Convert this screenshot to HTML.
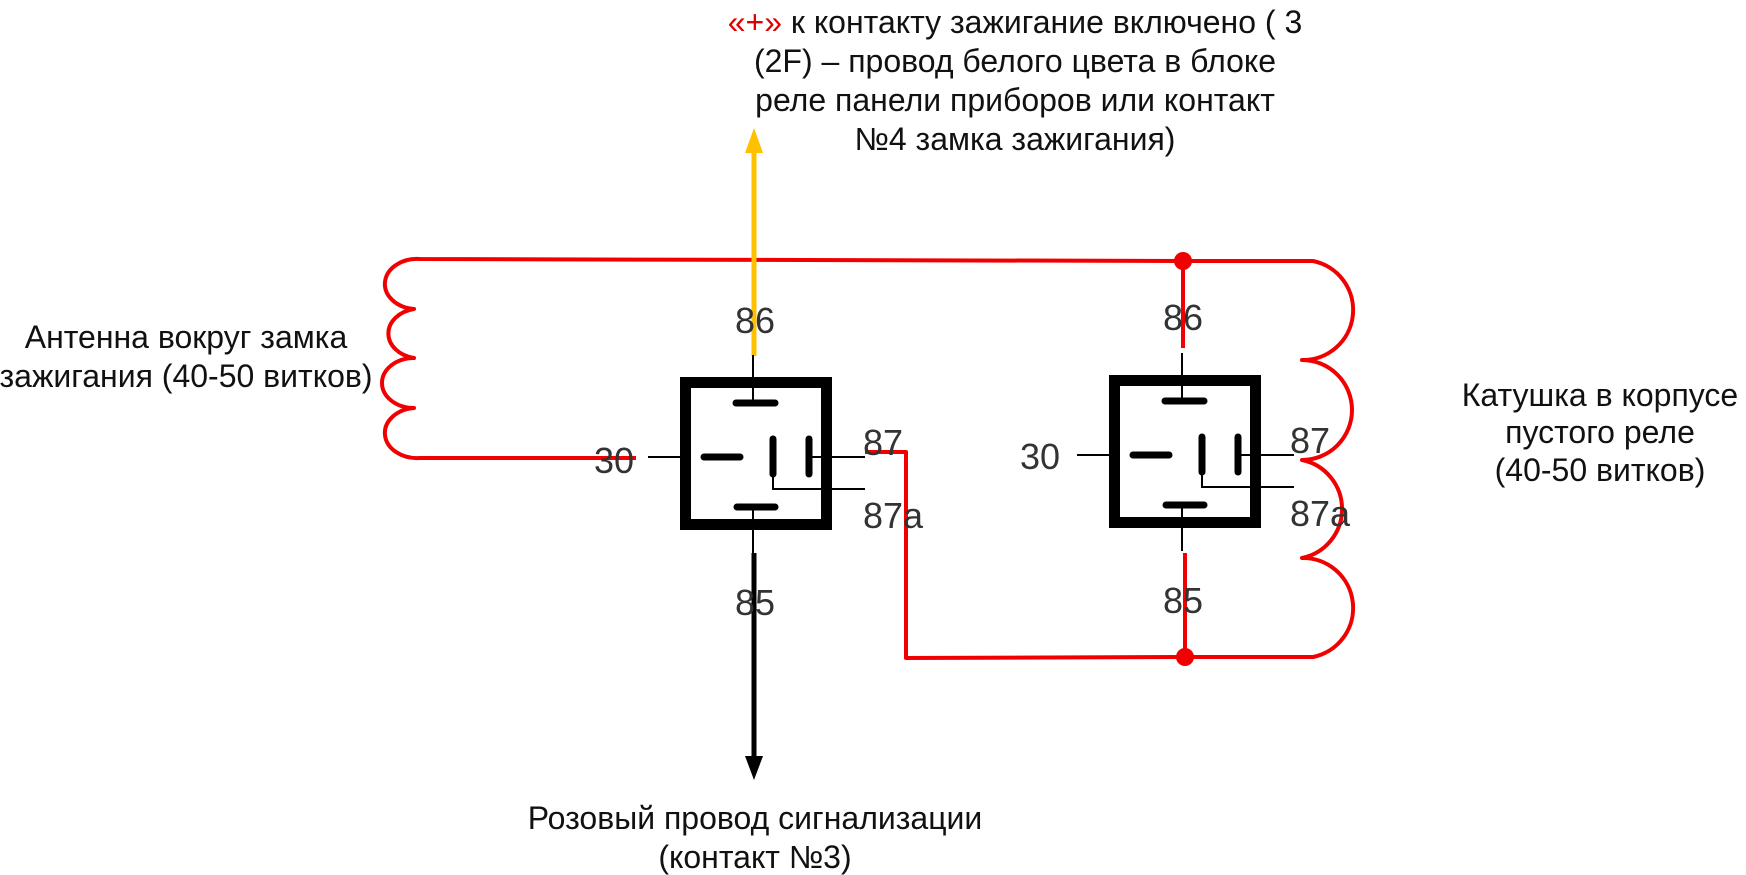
<!DOCTYPE html>
<html><head><meta charset="utf-8"><style>
html,body{margin:0;padding:0;background:#fff;}
svg{display:block;}
.t{font-family:"Liberation Sans","Noto Sans CJK SC",sans-serif;font-size:32px;fill:#111;}
.p{font-family:"Liberation Sans",sans-serif;font-size:36px;fill:#333;}
</style></head><body>
<svg width="1746" height="875" viewBox="0 0 1746 875" xmlns="http://www.w3.org/2000/svg">
<text class="t" x="1015" y="33" text-anchor="middle"><tspan fill="#e00000">«+»</tspan> к контакту зажигание включено ( 3</text>
<text class="t" x="1015" y="72" text-anchor="middle">(2F) – провод белого цвета в блоке</text>
<text class="t" x="1015" y="111" text-anchor="middle">реле панели приборов или контакт</text>
<text class="t" x="1015" y="150" text-anchor="middle">№4 замка зажигания)</text>
<text class="t" x="186" y="348" text-anchor="middle">Антенна вокруг замка</text>
<text class="t" x="186" y="387" text-anchor="middle">зажигания (40-50 витков)</text>
<text class="t" x="1600" y="406" text-anchor="middle">Катушка в корпусе</text>
<text class="t" x="1600" y="443" text-anchor="middle">пустого реле</text>
<text class="t" x="1600" y="481" text-anchor="middle">(40-50 витков)</text>
<text class="t" x="755" y="829" text-anchor="middle">Розовый провод сигнализации</text>
<text class="t" x="755" y="868" text-anchor="middle">(контакт №3)</text>

<g fill="none" stroke="#f00000" stroke-width="4" stroke-linejoin="round">
<path d="M1183,261 L420,259 A32 25 0 0 0 414,309 A32 25 0 0 0 414,358 A32 25 0 0 0 414,408 A32 25 0 0 0 420,458 L636,458"/>
<path d="M1183,261 L1313,261 A50 50 0 0 1 1302,360 A50 50 0 0 1 1302,460 A50 50 0 0 1 1302,558 A50 50 0 0 1 1313,657 L1185,657 L906,658 L906,452 L865,452"/>
<path d="M1183,261 L1183,348"/>
<path d="M1185,553 L1185,657"/>
</g>
<circle cx="1183" cy="261" r="9" fill="#f00000"/>
<circle cx="1185" cy="657" r="9" fill="#f00000"/>

<line x1="754" y1="150" x2="754" y2="356" stroke="#ffc000" stroke-width="5"/>
<polygon points="754,128 745,153 763,153" fill="#ffc000"/>
<line x1="754" y1="553" x2="754" y2="760" stroke="#000" stroke-width="5"/>
<polygon points="754,780 745,756 763,756" fill="#000"/>

<g id="r1" stroke="#000" fill="none">
<rect x="685.5" y="382.5" width="141" height="142" stroke-width="11"/>
<line x1="753" y1="355" x2="753" y2="404" stroke-width="2"/>
<line x1="736" y1="403" x2="775" y2="403" stroke-width="7" stroke-linecap="round"/>
<line x1="648" y1="457" x2="690" y2="457" stroke-width="2"/>
<line x1="704" y1="457" x2="740" y2="457" stroke-width="7" stroke-linecap="round"/>
<line x1="773" y1="439" x2="773" y2="474" stroke-width="7" stroke-linecap="round"/>
<line x1="809" y1="439" x2="809" y2="474" stroke-width="7" stroke-linecap="round"/>
<line x1="809" y1="457" x2="865" y2="457" stroke-width="2"/>
<polyline points="773,474 773,489 865,489" stroke-width="2"/>
<line x1="737" y1="507" x2="775" y2="507" stroke-width="7" stroke-linecap="round"/>
<line x1="753" y1="507" x2="753" y2="553" stroke-width="2"/>
</g>
<use href="#r1" x="429" y="-2"/>

<text class="p" x="755" y="333" text-anchor="middle">86</text>
<text class="p" x="614" y="473" text-anchor="middle">30</text>
<text class="p" x="863" y="455">87</text>
<text class="p" x="863" y="528">87a</text>
<text class="p" x="755" y="615" text-anchor="middle">85</text>
<text class="p" x="1183" y="330" text-anchor="middle">86</text>
<text class="p" x="1040" y="469" text-anchor="middle">30</text>
<text class="p" x="1290" y="453">87</text>
<text class="p" x="1290" y="526">87a</text>
<text class="p" x="1183" y="613" text-anchor="middle">85</text>
</svg>
</body></html>
